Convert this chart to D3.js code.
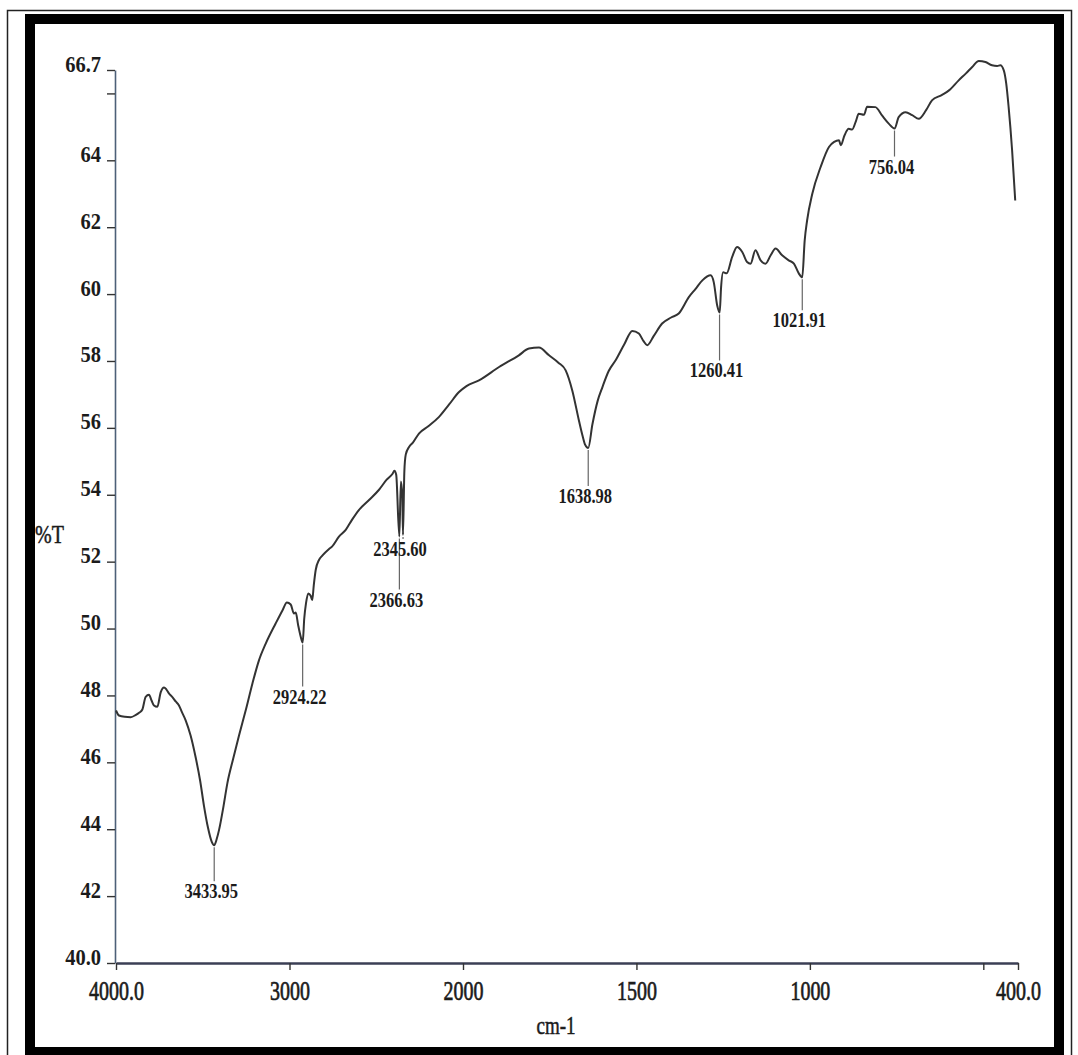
<!DOCTYPE html>
<html>
<head>
<meta charset="UTF-8">
<title>FTIR spectrum</title>
<script src="https://d3js.org/d3.v7.min.js"></script>
<style>
  body { margin: 0; background: #fff; }
  svg text { font-family: "Liberation Serif", "Times New Roman", serif; fill: #1b1b1b; }
</style>
</head>
<body>
<svg width="1078" height="1055"></svg>
<script>
// spectrum: wavenumber (cm-1) and %T
const wavenumber = [
  4000, 3983, 3950, 3915, 3885, 3867, 3848, 3829, 3810, 3795, 3781, 3762, 3742, 3723, 3710, 3695,
  3675, 3656, 3637, 3620, 3598, 3570, 3541, 3515, 3493, 3470, 3448, 3434, 3420, 3406, 3380, 3358,
  3325, 3291, 3250, 3214, 3176, 3137, 3080, 3040, 3015, 2993, 2974, 2964, 2950, 2935, 2924, 2915,
  2905, 2892, 2878, 2869, 2860, 2849, 2830, 2811, 2772, 2755, 2715, 2676, 2640, 2599, 2540, 2484,
  2440, 2407, 2395, 2385, 2367, 2358, 2350, 2346, 2338, 2330, 2311, 2290, 2254, 2200, 2138, 2080,
  2023, 1990, 1954, 1896, 1839, 1810, 1781, 1752, 1725, 1704, 1685, 1666, 1655, 1648, 1639, 1627,
  1612, 1598, 1580, 1560, 1535, 1512, 1493, 1480, 1469, 1450, 1426, 1400, 1378, 1349, 1330, 1310,
  1286, 1277, 1267, 1260, 1256, 1250, 1240, 1224, 1210, 1195, 1181, 1171, 1157, 1142, 1128, 1113,
  1099, 1080, 1061, 1046, 1032, 1022, 1015, 1008, 993, 969, 945, 930, 916, 911, 900, 888,
  878, 868, 859, 844, 835, 811, 792, 772, 756, 744, 724, 705, 686, 665, 648, 620,
  599, 571, 550, 532, 513, 494, 475, 460, 451, 441, 434, 427, 417, 408
];
const transmittance = [
  47.55, 47.40, 47.36, 47.35, 47.42, 47.48, 47.58, 47.96, 48.02, 47.85, 47.70, 47.66, 48.10, 48.24, 48.18, 48.06,
  47.95, 47.82, 47.70, 47.50, 47.25, 46.80, 46.15, 45.45, 44.70, 44.05, 43.62, 43.52, 43.70, 43.98, 44.70, 45.38,
  46.10, 46.80, 47.60, 48.35, 49.05, 49.55, 50.15, 50.55, 50.78, 50.72, 50.45, 50.48, 50.10, 49.75, 49.58, 50.30,
  50.75, 51.05, 50.98, 50.85, 51.30, 51.75, 52.05, 52.18, 52.38, 52.45, 52.75, 52.95, 53.25, 53.55, 53.85, 54.15,
  54.45, 54.62, 54.72, 54.60, 52.75, 54.40, 54.00, 52.80, 54.70, 55.20, 55.43, 55.55, 55.83, 56.05, 56.33, 56.70,
  57.07, 57.25, 57.42, 57.82, 58.17, 58.37, 58.40, 58.17, 57.95, 57.72, 57.12, 56.23, 55.75, 55.50, 55.40, 56.10,
  56.80, 57.22, 57.70, 58.02, 58.50, 58.90, 58.82, 58.60, 58.47, 58.75, 59.12, 59.30, 59.42, 59.91, 60.15, 60.41,
  60.56, 60.35, 59.65, 59.45, 60.20, 60.65, 60.62, 61.11, 61.41, 61.26, 60.96, 60.91, 61.31, 61.01, 60.91, 61.16,
  61.36, 61.16, 61.01, 60.91, 60.62, 60.50, 61.60, 62.20, 63.00, 63.80, 64.40, 64.55, 64.60, 64.45, 64.75, 64.94,
  64.92, 65.15, 65.39, 65.36, 65.60, 65.59, 65.34, 65.09, 64.95, 65.29, 65.44, 65.35, 65.24, 65.50, 65.79, 65.95,
  66.09, 66.39, 66.60, 66.79, 66.97, 66.94, 66.84, 66.82, 66.84, 66.69, 66.30, 65.59, 64.30, 62.80
];

const xTickValues = [4000, 3000, 2000, 1500, 1000, 500, 400];
const xTickLabels = ["4000.0", "3000", "2000", "1500", "1000", "", "400.0"];
const yTickValues = [40, 42, 44, 46, 48, 50, 52, 54, 56, 58, 60, 62, 64, 66, 66.7];
const yTickLabels = ["40.0", "42", "44", "46", "48", "50", "52", "54", "56", "58", "60", "62", "64", "", "66.7"];

const peakPositions = [3433.95, 2924.22, 2366.63, 2345.60, 1638.98, 1260.41, 1021.91, 756.04];
const peakValues = [43.52, 49.58, 52.75, 52.80, 55.40, 59.45, 60.50, 64.95];
const peakLabels = ["3433.95", "2924.22", "2366.63", "2345.60", "1638.98", "1260.41", "1021.91", "756.04"];
// how far below the dip each label sits (px)
const labelDrop = [53, 61, 70, 21, 55, 65, 50, 45];

const svg = d3.select("svg");

// photo frame
svg.append("rect")
  .attr("x", 7.5).attr("y", 10.5).attr("width", 1064).attr("height", 1080)
  .attr("fill", "none").attr("stroke", "#222").attr("stroke-width", 1.5);
svg.append("rect")
  .attr("x", 30).attr("y", 19).attr("width", 1029).attr("height", 1033)
  .attr("fill", "none").attr("stroke", "#000").attr("stroke-width", 10);

// wavenumber axis changes scale at 2000
const x = d3.scaleLinear().domain([4000, 2000, 400]).range([116, 463, 1018]);
const y = d3.scaleLinear().domain([40, 66.7]).range([963, 70]);

// y axis
const yAxis = svg.append("g")
  .attr("transform", "translate(115,0)")
  .call(d3.axisLeft(y).tickValues(yTickValues).tickSize(8).tickSizeOuter(0)
    .tickFormat((d, i) => yTickLabels[i]));
yAxis.select(".domain").attr("stroke", "#4d6078").attr("stroke-width", 1.6);
yAxis.selectAll(".tick line").attr("stroke", "#333").attr("stroke-width", 1.4);
yAxis.selectAll(".tick text")
  .attr("x", null).attr("dy", null)
  .attr("transform", "translate(-14,1) scale(1,1.15)")
  .style("font-size", "20.5px")
  .style("font-weight", "bold");

// x axis
const xAxis = svg.append("g")
  .attr("transform", "translate(0,963)")
  .call(d3.axisBottom(x).tickValues(xTickValues).tickSize(7).tickSizeOuter(0)
    .tickFormat((d, i) => xTickLabels[i]));
xAxis.select(".domain").attr("stroke", "#3b3f55").attr("stroke-width", 2.6);
xAxis.selectAll(".tick line").attr("stroke", "#333").attr("stroke-width", 1.4);
xAxis.selectAll(".tick text")
  .attr("y", null).attr("dy", null)
  .attr("transform", "translate(0,37) scale(1,1.35)")
  .style("font-size", "20px")
  .style("stroke", "#1b1b1b")
  .style("stroke-width", 0.5);

// spectrum
const points = wavenumber.map((w, i) => [w, transmittance[i]]);
svg.append("path")
  .datum(points)
  .attr("fill", "none")
  .attr("stroke", "#333")
  .attr("stroke-width", 2)
  .attr("stroke-linejoin", "round")
  .attr("d", d3.line().x(d => x(d[0])).y(d => y(d[1])).curve(d3.curveMonotoneX));

// peak markers
const peaks = svg.append("g");
peakPositions.forEach((p, i) => {
  const px = x(p), py = y(peakValues[i]);
  peaks.append("line")
    .attr("x1", px).attr("x2", px)
    .attr("y1", py + 2).attr("y2", py + labelDrop[i] - 17)
    .attr("stroke", "#666").attr("stroke-width", 1.2);
  peaks.append("text")
    .attr("transform", `translate(${px - 3},${py + labelDrop[i]}) scale(1,1.3)`)
    .attr("text-anchor", "middle")
    .style("font-size", "16.5px")
    .style("font-weight", "bold")
    .text(peakLabels[i]);
});

// axis titles
svg.append("text")
  .attr("transform", "translate(35,543) scale(1,1.25)")
  .style("font-size", "20px")
  .style("stroke", "#1b1b1b")
  .style("stroke-width", 0.4)
  .text("%T");
svg.append("text")
  .attr("transform", "translate(556,1034) scale(1,1.3)")
  .attr("text-anchor", "middle")
  .style("font-size", "19px")
  .style("stroke", "#1b1b1b")
  .style("stroke-width", 0.4)
  .text("cm-1");
</script>
</body>
</html>
